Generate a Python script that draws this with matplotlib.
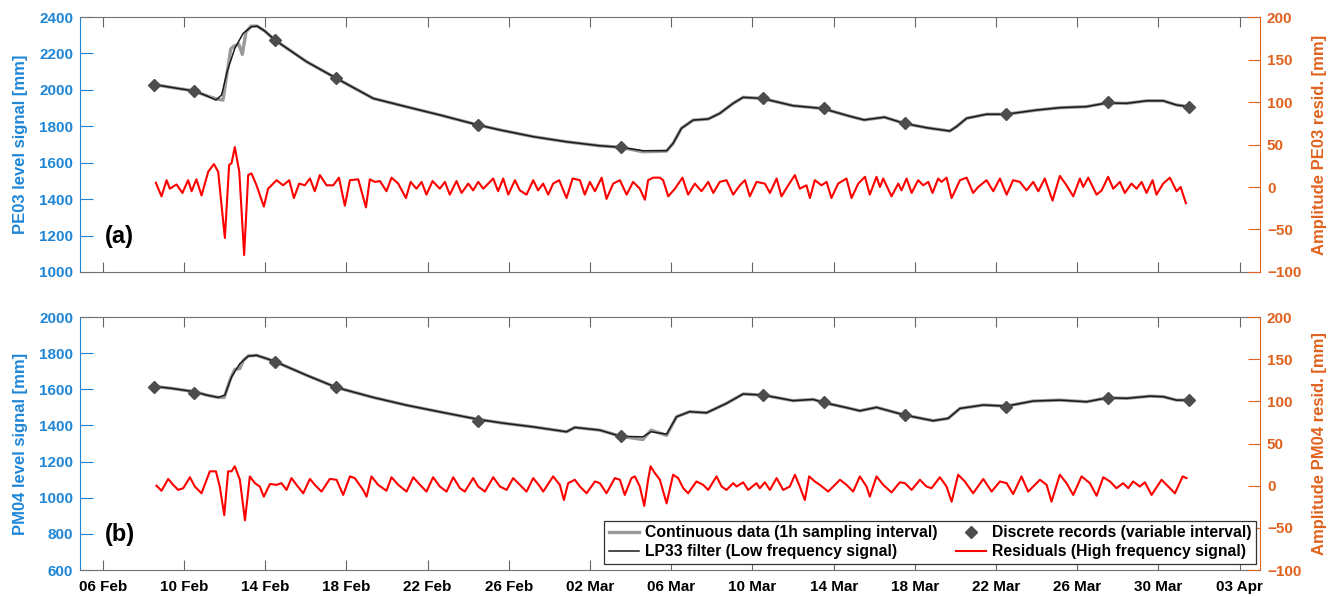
import matplotlib
matplotlib.use("Agg")
import matplotlib.pyplot as plt
import matplotlib.dates as mdates
import numpy as np
import pandas as pd

plt.rcParams['font.family'] = ['Liberation Sans', 'DejaVu Sans']
plt.rcParams['font.weight'] = 'bold'

START = pd.Timestamp('2017-02-06')
BLUE = '#1f86d6'
ORANGE = '#e0621e'

# all times are days after 06 Feb
disc_days = [2.5, 4.5, 8.5, 11.5, 18.5, 25.5, 32.5, 35.5, 39.5, 44.5, 49.5, 53.5]
disc_pe03 = [2027, 1994, 2274, 2063, 1807, 1685, 1953, 1902, 1816, 1866, 1932, 1908]
disc_pm04 = [1614, 1580, 1752, 1610, 1426, 1343, 1568, 1527, 1457, 1503, 1553, 1540]

# LP33 filter (low frequency signal)
lp_pe03_days = [2.48, 3.46, 4.5, 5.1, 5.57, 5.85, 6.12, 6.5, 6.91, 7.32, 7.6, 7.98, 8.47,
                10.03, 11.51, 13.32, 14.96, 16.6, 18.49, 19.56, 21.2, 22.84, 24.48, 25.5,
                26.6, 27.77, 28.09, 28.5, 29.08, 29.82, 30.39, 31.05, 31.54, 32.48, 34.0,
                35.45, 36.8, 37.5, 38.5, 39.47, 40.58, 41.72, 42.05, 42.55, 43.53, 44.47,
                46.0, 47.14, 48.46, 49.44, 50.43, 51.42, 52.23, 52.89, 53.47]
lp_pe03 = [2030, 2012, 1994, 1968, 1944, 1972, 2100, 2228, 2310, 2347, 2350, 2323, 2274,
           2155, 2063, 1953, 1907, 1862, 1807, 1780, 1743, 1715, 1693, 1685,
           1666, 1666, 1706, 1789, 1834, 1840, 1871, 1926, 1959, 1953, 1913,
           1898, 1855, 1835, 1850, 1816, 1792, 1774, 1798, 1844, 1866, 1866,
           1889, 1902, 1908, 1928, 1926, 1940, 1940, 1917, 1908]

lp_pm04_days = [2.48, 3.46, 4.53, 5.11, 5.68, 6.01, 6.34, 6.75, 7.16, 7.57, 8.06, 8.51,
                10.03, 11.51, 13.32, 14.96, 16.6, 18.52, 19.7, 21.2, 22.84, 23.25, 24.48,
                25.5, 26.6, 27.0, 27.77, 28.26, 28.9, 29.74, 30.72, 31.54, 32.53, 34.0,
                34.99, 35.5, 36.8, 37.29, 38.11, 39.51, 40.9, 41.64, 42.22, 43.37, 44.51,
                45.83, 47.14, 48.46, 49.49, 50.43, 51.58, 52.23, 52.89, 53.5]
lp_pm04 = [1617, 1604, 1586, 1568, 1555, 1568, 1669, 1742, 1783, 1788, 1770, 1752,
           1678, 1610, 1555, 1512, 1475, 1433, 1413, 1392, 1365, 1389, 1374,
           1340, 1337, 1365, 1352, 1448, 1476, 1470, 1522, 1574, 1568, 1537,
           1544, 1527, 1494, 1481, 1500, 1457, 1426, 1439, 1494, 1513, 1507,
           1535, 1540, 1531, 1553, 1550, 1562, 1559, 1540, 1540]

# continuous data (1h sampling), read where it departs from the filter
cont_pe03_days = [2.48, 3.46, 4.5, 5.1, 5.6, 5.92, 6.1, 6.3, 6.45, 6.7, 6.87, 7.05, 7.3,
                  7.6, 7.98, 8.47, 10.03, 11.51, 13.32, 14.96, 16.6, 18.49, 19.56, 21.2,
                  22.84, 24.48, 25.5, 26.6, 27.77, 28.09, 28.5, 29.08, 29.82, 30.39, 31.05,
                  31.54, 32.48, 34.0, 35.45, 36.8, 37.5, 38.5, 39.47, 40.58, 41.72, 42.05,
                  42.55, 43.53, 44.47, 46.0, 47.14, 48.46, 49.44, 50.43, 51.42, 52.23,
                  52.89, 53.47]
cont_pe03 = [2030, 2012, 1994, 1968, 1950, 1944, 2080, 2225, 2240, 2250, 2195, 2318, 2350,
             2350, 2323, 2274, 2155, 2063, 1953, 1907, 1862, 1807, 1780, 1743,
             1715, 1693, 1685, 1660, 1664, 1706, 1789, 1834, 1840, 1871, 1926,
             1959, 1953, 1913, 1898, 1855, 1835, 1850, 1816, 1792, 1774, 1798,
             1844, 1866, 1866, 1889, 1902, 1908, 1928, 1926, 1940, 1940,
             1917, 1908]

cont_pm04_days = [2.48, 3.46, 4.53, 5.11, 5.68, 5.98, 6.26, 6.5, 6.75, 6.92, 7.16, 7.57,
                  8.06, 8.51, 10.03, 11.51, 13.32, 14.96, 16.6, 18.52, 19.7, 21.2, 22.84,
                  23.25, 24.48, 25.5, 26.6, 27.0, 27.77, 28.26, 28.9, 29.74, 30.72, 31.54,
                  32.53, 34.0, 34.99, 35.5, 36.8, 37.29, 38.11, 39.51, 40.9, 41.64, 42.22,
                  43.37, 44.51, 45.83, 47.14, 48.46, 49.49, 50.43, 51.58, 52.23, 52.89, 53.5]
cont_pm04 = [1617, 1604, 1586, 1568, 1555, 1555, 1650, 1710, 1715, 1760, 1785, 1788,
             1770, 1752, 1678, 1610, 1555, 1512, 1475, 1433, 1413, 1392, 1365,
             1389, 1374, 1340, 1322, 1374, 1345, 1448, 1476, 1470, 1522, 1574,
             1568, 1537, 1544, 1527, 1494, 1481, 1500, 1457, 1426, 1439, 1494,
             1513, 1507, 1535, 1540, 1531, 1553, 1550, 1562, 1559, 1540, 1540]

# residuals (high frequency signal), peaks and troughs
res_pe03_days = [2.61, 2.89, 3.14, 3.30, 3.63, 3.92, 4.20, 4.37, 4.61, 4.86, 5.19, 5.47, 5.68,
                 6.01, 6.22, 6.34, 6.50, 6.72, 6.96, 7.16, 7.32, 7.57, 7.93, 8.14, 8.56, 8.88,
                 9.18, 9.41, 9.67, 9.95, 10.20, 10.44, 10.69, 11.02, 11.35, 11.63, 11.92,
                 12.17, 12.58, 12.96, 13.15, 13.40, 13.65, 13.97, 14.22, 14.55, 14.93, 15.16,
                 15.45, 15.70, 15.94, 16.24, 16.60, 16.85, 17.09, 17.42, 17.67, 18.00, 18.24,
                 18.49, 18.74, 19.23, 19.47, 19.72, 19.97, 20.30, 20.54, 20.87, 21.20, 21.44,
                 21.69, 21.94, 22.18, 22.48, 22.84, 23.14, 23.50, 23.74, 23.99, 24.24, 24.57,
                 24.81, 25.14, 25.47, 25.80, 26.12, 26.45, 26.70, 26.86, 27.11, 27.44, 27.60,
                 27.85, 28.18, 28.55, 28.83, 29.16, 29.49, 29.82, 30.07, 30.39, 30.72, 31.05,
                 31.38, 31.63, 31.87, 32.20, 32.61, 32.86, 33.19, 33.43, 33.76, 34.09, 34.33,
                 34.66, 34.83, 35.07, 35.40, 35.65, 35.89, 36.22, 36.63, 36.88, 37.21, 37.54,
                 37.78, 38.11, 38.28, 38.44, 38.85, 39.18, 39.34, 39.59, 39.84, 40.16, 40.41,
                 40.66, 40.87, 41.15, 41.31, 41.56, 41.81, 42.22, 42.55, 42.87, 43.12, 43.53,
                 43.86, 44.19, 44.52, 44.84, 45.17, 45.50, 45.83, 46.08, 46.40, 46.78, 47.14,
                 47.47, 47.80, 48.13, 48.29, 48.54, 48.95, 49.20, 49.52, 49.77, 50.10, 50.34,
                 50.67, 50.92, 51.17, 51.41, 51.71, 51.90, 52.23, 52.56, 52.89, 53.09, 53.35]
res_pe03 = [5, -11, 8, -2, 3, -7, 8, -5, 9, -10, 18, 27, 18,
            -60, 26, 28, 47, 18, -80, 14, 16, 2, -23, -2, 8, 2,
            8, -13, 4, 2, 10, -5, 14, 2, 2, 11, -22,
            8, 9, -24, 9, 6, 7, -5, 11, 4, -13, 6,
            -2, 6, -9, 7, -2, 6, -9, 7, -7, 4, -4,
            6, -2, 10, -5, 10, -9, 8, -4, -9, 8, -4,
            4, -9, 4, 8, -13, 10, 8, -9, 6, -5, 11,
            -14, 4, 8, -9, 6, -2, -15, 8, 11, 11, 8,
            -11, -2, 11, -9, 4, -5, 6, -7, 6, 8, -9,
            2, 8, -11, 6, 4, -7, 10, -11, 2, 14, -2,
            2, -13, 8, 2, 6, -13, 4, 10, -13, 4, 12,
            -9, 12, 0, 10, -11, 4, -4, 10, -7, 8, 2,
            6, -7, 10, 6, 11, -13, 8, 11, -7, 0, 8,
            -5, 10, -9, 8, 6, -4, 6, -5, 10, -16, 13,
            2, -11, 10, 0, 11, -9, -4, 12, -2, 6, -7,
            4, -2, 6, -7, 8, -9, 4, 11, -5, 0, -19]

res_pm04_days = [2.64, 2.89, 3.22, 3.46, 3.71, 3.96, 4.29, 4.53, 4.86, 5.27, 5.57, 5.76, 5.98,
                 6.17, 6.34, 6.50, 6.75, 7.00, 7.24, 7.49, 7.73, 7.93, 8.23, 8.56, 8.80, 9.05,
                 9.29, 9.54, 9.87, 10.20, 10.44, 10.77, 11.18, 11.51, 11.84, 12.17, 12.41,
                 12.82, 12.99, 13.23, 13.56, 13.97, 14.22, 14.55, 14.96, 15.29, 15.62, 15.94,
                 16.27, 16.60, 16.93, 17.26, 17.59, 17.83, 18.24, 18.49, 18.82, 19.23, 19.56,
                 19.89, 20.21, 20.54, 20.87, 21.20, 21.53, 21.69, 22.18, 22.51, 22.71, 22.92,
                 23.25, 23.50, 23.83, 24.24, 24.48, 24.81, 25.22, 25.47, 25.71, 26.04, 26.21,
                 26.45, 26.67, 26.86, 26.98, 27.19, 27.44, 27.77, 28.09, 28.34, 28.59, 28.83,
                 29.24, 29.57, 29.82, 30.23, 30.48, 30.72, 31.05, 31.22, 31.54, 31.79, 32.20,
                 32.36, 32.61, 32.86, 33.19, 33.51, 33.84, 34.09, 34.33, 34.58, 34.79, 35.07,
                 35.32, 35.73, 36.31, 36.63, 36.96, 37.29, 37.62, 37.78, 38.11, 38.44, 38.85,
                 39.26, 39.51, 39.84, 40.25, 40.57, 40.82, 41.23, 41.56, 41.81, 42.13, 42.46,
                 42.87, 43.37, 43.78, 44.19, 44.52, 44.84, 45.25, 45.58, 46.16, 46.49, 46.73,
                 47.14, 47.47, 47.80, 48.21, 48.62, 48.95, 49.28, 49.61, 49.93, 50.26, 50.51,
                 50.75, 51.08, 51.33, 51.66, 52.15, 52.48, 52.81, 53.19, 53.38]
res_pm04 = [0, -6, 8, 1, -5, -3, 10, -1, -9, 17, 17, -1, -35,
            17, 17, 23, 7, -41, 11, 3, -1, -13, 2, 1, 3, -5,
            9, 1, -9, 8, 1, -7, 8, 7, -11, 11, 9,
            -5, -13, 11, 1, -6, 10, 1, -7, 10, 1, -7,
            10, -1, -7, 10, -3, -7, 9, -1, -7, 10, -1,
            -5, 9, 1, -7, 9, -1, -7, 11, 1, -17, 3,
            7, -1, -9, 5, 3, -9, 9, 7, -11, 9, 11,
            -1, -24, 7, 23, 15, 7, -21, 13, 9, -3, -9,
            5, 1, -5, 11, -1, -5, 3, -1, 4, -5, 3,
            -3, 4, -5, 9, -5, -1, 13, -1, -17, 11, 5,
            1, -7, 7, 1, -7, 11, -1, -13, 11, 1, -8,
            4, 3, -5, 7, -1, -3, 10, -1, -19, 13, 5,
            -9, 8, -7, 5, 3, -10, 11, -7, 7, 1, -19,
            13, 3, -11, 11, 3, -12, 10, 5, -3, 3, -3,
            5, -1, 4, -11, 7, -1, -9, 11, 9]

tick_days = np.arange(0, 57, 4)


def to_dt(days):
    return START + pd.to_timedelta(np.asarray(days), unit='D')


def draw_panel(rect, cont_d, cont_v, lp_d, lp_v, disc_v, res_d, res_v,
               ylim, ylabel, rlabel, tag, show_x):
    ax = fig.add_axes(rect)
    ax.plot(to_dt(cont_d), cont_v, color='#9a9a9a', lw=2.4,
            label='Continuous data (1h sampling interval)')
    ax.plot(to_dt(lp_d), lp_v, color='#1a1a1a', lw=1.1,
            label='LP33 filter (Low frequency signal)')
    ax.plot(to_dt(disc_days), disc_v, linestyle='none', marker='D', ms=6.5,
            color='#4d4d4d', label='Discrete records (variable interval)')
    ax.set_ylim(*ylim)
    ax.set_yticks(np.arange(ylim[0], ylim[1] + 1, 200))
    ax.set_xlim(START - pd.Timedelta(hours=27), START + pd.Timedelta(days=57))
    ax.set_xticks(to_dt(tick_days))
    ax.xaxis.set_major_formatter(mdates.DateFormatter('%d %b'))
    ax.tick_params(axis='x', direction='in', top=True, length=7, width=0.8,
                   color='#666666', labelsize=11, pad=7, labelbottom=show_x)
    ax.tick_params(axis='y', direction='in', length=9, width=0.8,
                   colors=BLUE, labelsize=11, pad=5)
    ax.set_ylabel(ylabel, color=BLUE, fontsize=12, fontweight='bold', labelpad=8)
    for s in ('top', 'bottom'):
        ax.spines[s].set_color('#707070')
    ax.spines['left'].set_color(BLUE)
    ax.spines['right'].set_visible(False)
    ax.text(0.021, 0.14, tag, transform=ax.transAxes, fontsize=17,
            fontweight='bold', va='center', ha='left')

    ax2 = ax.twinx()
    ax2.plot(to_dt(res_d), res_v, color='#ff0000', lw=1.5,
             label='Residuals (High frequency signal)')
    ax2.set_ylim(-100, 200)
    ax2.set_yticks(np.arange(-100, 201, 50))
    ax2.tick_params(axis='y', direction='in', length=9, width=0.8,
                    colors=ORANGE, labelsize=11, pad=5)
    ax2.set_ylabel(rlabel, color=ORANGE, fontsize=12, fontweight='bold', labelpad=8)
    for s in ('top', 'bottom', 'left'):
        ax2.spines[s].set_visible(False)
    ax2.spines['right'].set_color(ORANGE)
    return ax, ax2


fig = plt.figure(figsize=(13.38, 5.97), dpi=100)

draw_panel([0.0598, 0.5444, 0.8819, 0.4271], cont_pe03_days, cont_pe03,
           lp_pe03_days, lp_pe03, disc_pe03, res_pe03_days, res_pe03,
           (1000, 2400), 'PE03 level signal [mm]', 'Amplitude PE03 resid. [mm]',
           '(a)', False)
axb, axb2 = draw_panel([0.0598, 0.0452, 0.8819, 0.4238], cont_pm04_days, cont_pm04,
                       lp_pm04_days, lp_pm04, disc_pm04, res_pm04_days, res_pm04,
                       (600, 2000), 'PM04 level signal [mm]', 'Amplitude PM04 resid. [mm]',
                       '(b)', True)

h1, l1 = axb.get_legend_handles_labels()
h2, l2 = axb2.get_legend_handles_labels()
leg = axb2.legend(h1 + h2, l1 + l2, ncol=2, loc='lower right',
                  bbox_to_anchor=(0.997, 0.024), borderaxespad=0,
                  fontsize=11.3, frameon=True,
                  fancybox=False, edgecolor='#333333', framealpha=1,
                  handlelength=1.9, columnspacing=1.2, handletextpad=0.4,
                  borderpad=0.3, labelspacing=0.25)
leg.get_frame().set_linewidth(0.9)

fig.savefig('out.png', dpi=100)
